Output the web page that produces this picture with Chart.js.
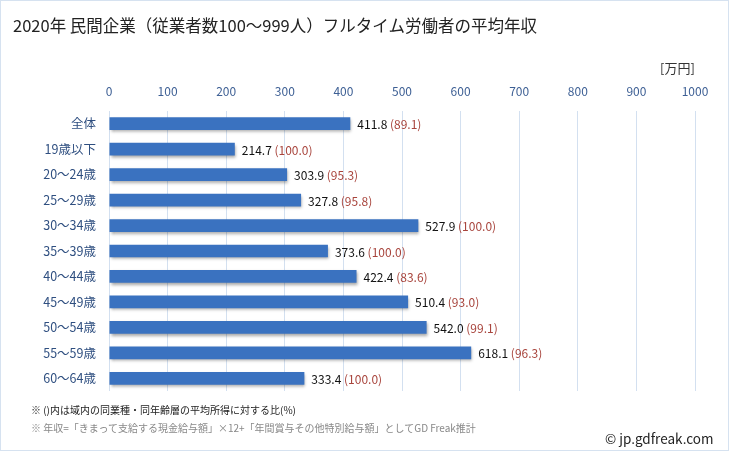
<!DOCTYPE html>
<html>
<head>
<meta charset="utf-8">
<script src="https://cdn.jsdelivr.net/npm/chart.js@4.4.1/dist/chart.umd.min.js"></script>
<style>
  body { margin: 0; background: #fff; }
  #wrap { position: relative; width: 729px; height: 451px; box-sizing: border-box; border: 1px solid #d6e2f0; font-family: "Noto Sans CJK JP", sans-serif; }
  #chart { position: absolute; left: 0; top: 0; }
  .txt { position: absolute; white-space: nowrap; }
  #title { left: 12px; top: 12px; font-size: 16.5px; color: #222; }
  #unit { left: 659px; top: 57px; font-size: 13px; color: #333; }
  #note1 { left: 30px; top: 401px; font-size: 10px; color: #222; }
  #note2 { left: 30px; top: 419px; font-size: 10px; color: #888; }
  #credit { left: 604px; top: 427px; font-size: 13.5px; color: #222; }
</style>
</head>
<body>
<div id="wrap">
  <canvas id="chart" width="727" height="449"></canvas>
  <div class="txt" id="title">2020年 民間企業（従業者数100～999人）フルタイム労働者の平均年収</div>
  <div class="txt" id="unit">[万円]</div>
  <div class="txt" id="note1">※ ()内は域内の同業種・同年齢層の平均所得に対する比(%)</div>
  <div class="txt" id="note2">※ 年収=「きまって支給する現金給与額」×12+「年間賞与その他特別給与額」としてGD Freak推計</div>
  <div class="txt" id="credit">© jp.gdfreak.com</div>
</div>
<script>
// data
const categories = ['全体', '19歳以下', '20～24歳', '25～29歳', '30～34歳', '35～39歳', '40～44歳', '45～49歳', '50～54歳', '55～59歳', '60～64歳'];
const salary = [411.8, 214.7, 303.9, 327.8, 527.9, 373.6, 422.4, 510.4, 542.0, 618.1, 333.4];
const ratio = [89.1, 100.0, 95.3, 95.8, 100.0, 100.0, 83.6, 93.0, 99.1, 96.3, 100.0];
const xTicks = [0, 100, 200, 300, 400, 500, 600, 700, 800, 900, 1000];

const FONT = '"Noto Sans CJK JP", sans-serif';

// drop shadow under bars
const barStyle = {
    id: 'barStyle',
    beforeDatasetDraw(chart) {
        const ctx = chart.ctx;
        ctx.save();
        ctx.shadowColor = 'rgba(0, 0, 0, 0.35)';
        ctx.shadowBlur = 3;
        ctx.shadowOffsetX = 1;
        ctx.shadowOffsetY = 2;
    },
    afterDatasetDraw(chart) {
        chart.ctx.restore();
    }
};

// value labels
const valueLabels = {
    id: 'valueLabels',
    afterDatasetsDraw(chart) {
        const ctx = chart.ctx;
        const meta = chart.getDatasetMeta(0);
        ctx.save();
        ctx.font = '12px ' + FONT;
        ctx.textBaseline = 'middle';
        meta.data.forEach((bar, i) => {
            const num = salary[i].toFixed(1);
            const x = bar.x + 7;
            ctx.fillStyle = '#111';
            ctx.fillText(num, x, bar.y + 1);
            const w = ctx.measureText(num + ' ').width;
            ctx.fillStyle = '#a8443c';
            ctx.fillText('(' + ratio[i].toFixed(1) + ')', x + w, bar.y + 1);
        });
        ctx.restore();
    }
};

new Chart(document.getElementById('chart'), {
    type: 'bar',
    data: {
        labels: categories,
        datasets: [{
            data: salary,
            backgroundColor: (c) => {
                const el = c.chart.getDatasetMeta(0).data[c.dataIndex];
                if (!el || el.height === undefined) return '#3a72c0';
                const g = c.chart.ctx.createLinearGradient(0, el.y - el.height / 2, 0, el.y + el.height / 2);
                g.addColorStop(0, '#4f8bd6');
                g.addColorStop(0.5, '#3a73c2');
                g.addColorStop(1, '#2b5a9e');
                return g;
            },
            borderWidth: 0,
            barPercentage: 0.5,
            categoryPercentage: 1.0
        }]
    },
    options: {
        indexAxis: 'y',
        responsive: false,
        animation: false,
        layout: { padding: { left: 8, top: 78, right: 33, bottom: 59 } },
        plugins: { legend: { display: false }, tooltip: { enabled: false } },
        scales: {
            x: {
                position: 'top',
                min: 0,
                max: 1000,
                afterBuildTicks: (axis) => { axis.ticks = xTicks.map(v => ({ value: v })); },
                grid: { color: '#d3e0f0', drawTicks: false },
                border: { display: false },
                ticks: { color: '#3d5f94', font: { family: FONT, size: 12 }, padding: 12, callback: (v) => String(v) },
                afterFit: (axis) => { axis.height = 32; }
            },
            y: {
                grid: { display: false },
                border: { display: false },
                ticks: { color: '#2f4f80', font: { family: FONT, size: 12.5 }, padding: 5 },
                afterFit: (axis) => { axis.width = 100; }
            }
        }
    },
    plugins: [barStyle, valueLabels]
});
</script>
</body>
</html>
